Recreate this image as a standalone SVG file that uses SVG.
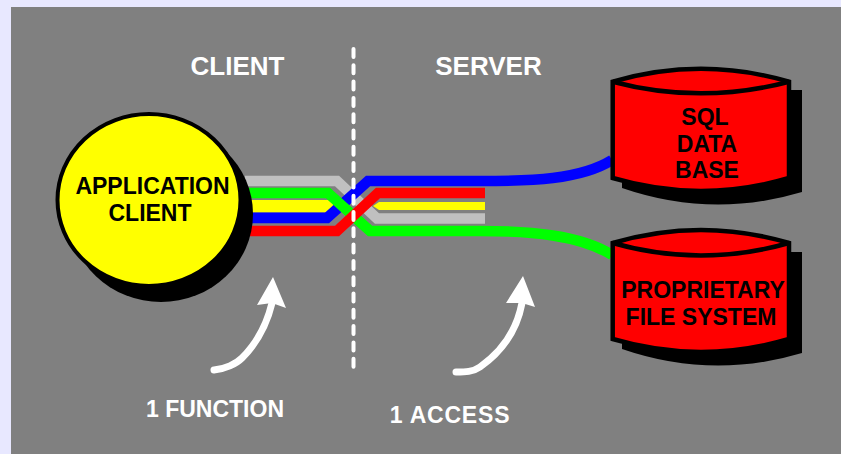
<svg xmlns="http://www.w3.org/2000/svg" width="841" height="454" viewBox="0 0 841 454">
<style>
text{font-family:"Liberation Sans",Arial,sans-serif;font-weight:bold;text-anchor:middle}
.w{fill:#fff;font-size:26px}
.wl{fill:#fff;font-size:23px}
.k{fill:#000;font-size:23px}
.wire{fill:none;stroke-width:10.500;stroke-linejoin:miter}
.cyl{fill:#f00;stroke:#000;stroke-width:4.500;stroke-linejoin:miter}
.arw{fill:none;stroke:#fff;stroke-width:7;stroke-linecap:round}
</style>
<rect width="841" height="454" fill="#e8e8ff"/>
<rect x="11" y="7" width="830" height="447" fill="#808080"/>
<g id="connectors">
<path d="M245 200H329L335 206L329 212H245Z" fill="#ffff00"/>
<path d="M485 202H379L373 206L379 210H485Z" fill="#ffff00"/>
<path class="wire" stroke="#c0c0c0" d="M245 181H337L377 218.500H485"/>
<path class="wire" stroke="#0000ff" d="M245 218H327L368 181H480C530 181 580 180 612 160"/>
<path class="wire" stroke="#00ff00" d="M245 193H328L370 231H480C530 231 580 235 612 255"/>
<path class="wire" stroke="#ff0000" d="M245 231H337L378 193H485"/>
<path id="divider" d="M353.500 49V373" fill="none" stroke="#fff" stroke-width="4" stroke-linecap="round" stroke-dasharray="8 8.300"/>
</g>
<g id="client">
<ellipse cx="161" cy="214" rx="92" ry="88" fill="#000"/>
<ellipse cx="149" cy="200" rx="91.500" ry="86" fill="#ffff00" stroke="#000" stroke-width="4"/>
<text class="k" x="152.500" y="194">APPLICATION</text>
<text class="k" x="150" y="221">CLIENT</text>
</g>
<g id="sql-database">
<path d="M622 90H802V192Q712 219 622 188Z" fill="#000"/>
<path class="cyl" d="M612.700 81.700Q701 56 789 81.700V178Q701 204 612.700 178Z"/>
<path d="M612.700 81.700Q701 105 789 81.700" fill="none" stroke="#000" stroke-width="4.500"/>
<text class="k" x="705" y="125">SQL</text>
<text class="k" x="707" y="152">DATA</text>
<text class="k" x="707" y="178">BASE</text>
</g>
<g id="file-system">
<path d="M622 252H802V353Q712 380 622 349Z" fill="#000"/>
<path class="cyl" d="M612.700 243Q701 217 789 243V339Q701 365 612.700 339Z"/>
<path d="M612.700 243Q701 268 789 243" fill="none" stroke="#000" stroke-width="4.500"/>
<text class="k" x="703" y="298">PROPRIETARY</text>
<text class="k" x="701" y="325">FILE SYSTEM</text>
</g>
<g id="arrow-function">
<path class="arw" d="M214 370C225 369 236 364 242 358C255 345 266 328 272 303"/>
<path d="M273 277L286 308L272 303L257 305Z" fill="#fff"/>
</g>
<g id="arrow-access">
<path class="arw" d="M456 372C465 372 473 372 480 367C497 355 516 335 522 303"/>
<path d="M523 276L535 307L522 303L506 303Z" fill="#fff"/>
</g>
<text class="w" x="237.500" y="75">CLIENT</text>
<text class="w" x="488.500" y="75">SERVER</text>
<text class="wl" x="215" y="417">1 FUNCTION</text>
<text class="wl" x="450" y="423" letter-spacing="0.800">1 ACCESS</text>
</svg>
